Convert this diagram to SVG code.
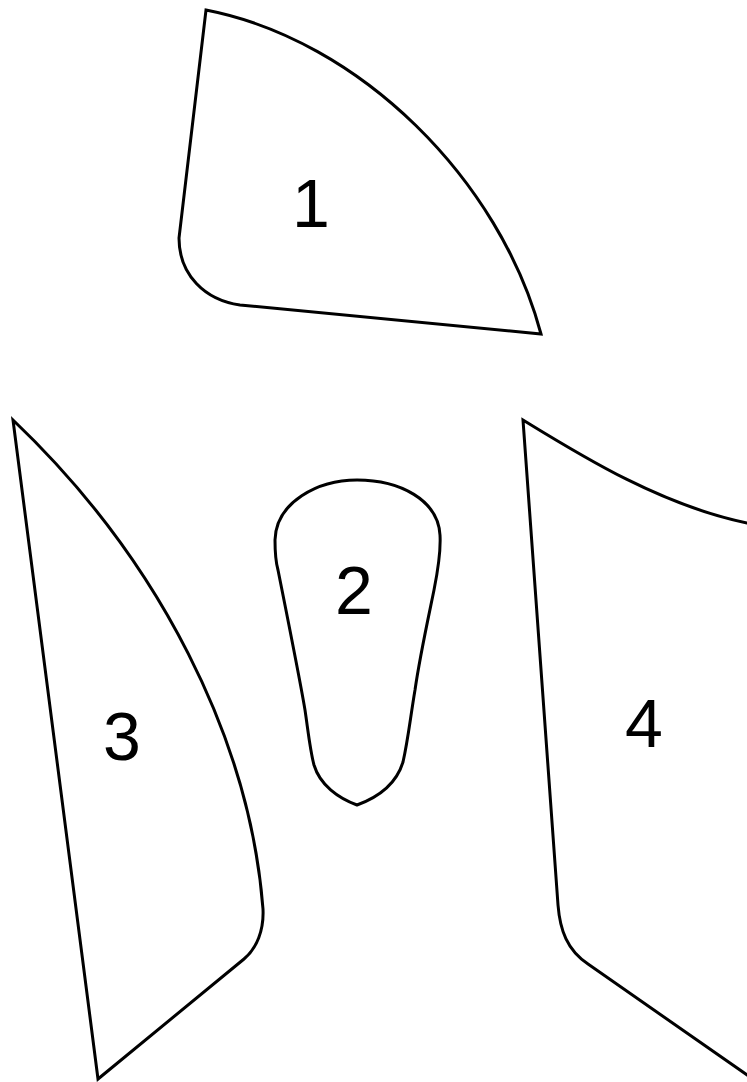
<svg xmlns="http://www.w3.org/2000/svg" width="747" height="1082" viewBox="0 0 747 1082">
<style>
.s{fill:none;stroke:#000;stroke-width:3;stroke-linejoin:miter;stroke-linecap:butt}
.t{font-family:"Liberation Sans",Arial,sans-serif;font-size:68px;fill:#000;text-anchor:middle}
</style>
<rect width="747" height="1082" fill="#fff"/>
<g id="piece1">
<path class="s" d="M206,10 C360,40 500,180 541,334 L240,305 C205,300 179,275 179,238 Z"/>
<text class="t" x="311" y="227">1</text>
</g>
<g id="piece2">
<path class="s" d="M357,480 C318,480 276,502 275,540 C275,555 276,563 278,570 C288,620 300,680 305,710 C308,730 310,750 314,765 C320,785 338,798 357,805 C376,798 396,785 403,762 C408,740 410,720 415,690 C420,655 430,610 434,590 C438,570 441,552 440,535 C438,500 400,480 357,480 Z"/>
<text class="t" x="354" y="614">2</text>
</g>
<g id="piece3">
<path class="s" d="M13,420 L98,1079 L244,959 C257,948 264,930 263,909 C250,740 160,560 13,420 Z"/>
<text class="t" x="122" y="760">3</text>
</g>
<g id="piece4">
<path class="s" d="M770,527 L747,523 C660,505 580,455 523,420 L558,905 C560,930 567,950 588,964 L770,1091"/>
<text class="t" x="644" y="747">4</text>
</g>
<g id="connectors"></g>
</svg>
